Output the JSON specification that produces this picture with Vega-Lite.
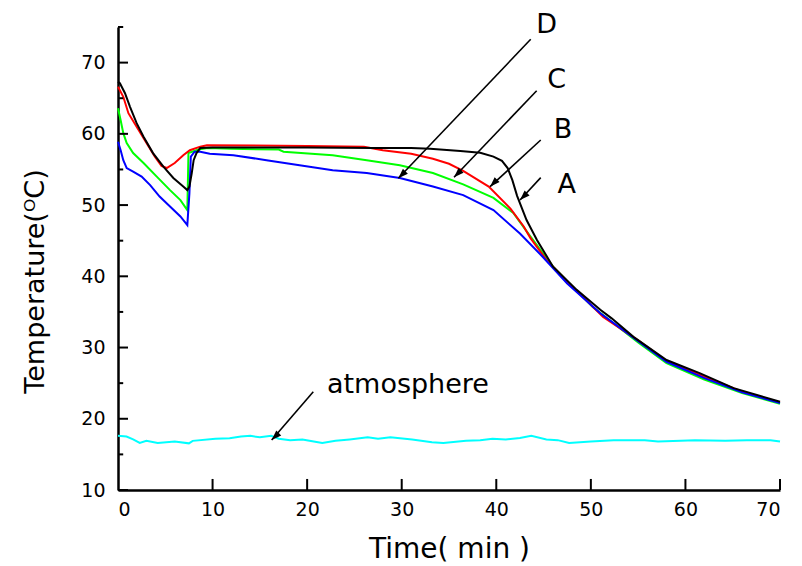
{
 "$schema": "https://vega.github.io/schema/vega-lite/v6.json",
 "width": 662,
 "height": 463,
 "autosize": "none",
 "padding": {"left": 118, "top": 27, "right": 22, "bottom": 76},
 "background": "white",
 "config": {"view": {"stroke": null}, "font": "DejaVu Sans"},
 "datasets": {
  "curves": [
   {"series":"atmosphere","t":0,"temp":17.6},{"series":"atmosphere","t":0.9,"temp":17.5},{"series":"atmosphere","t":1.6,"temp":17.1},{"series":"atmosphere","t":2.3,"temp":16.6},{"series":"atmosphere","t":3.0,"temp":16.9},{"series":"atmosphere","t":4.2,"temp":16.6},{"series":"atmosphere","t":6.0,"temp":16.8},{"series":"atmosphere","t":7.5,"temp":16.55},{"series":"atmosphere","t":7.9,"temp":16.9},{"series":"atmosphere","t":10.3,"temp":17.2},{"series":"atmosphere","t":11.8,"temp":17.25},{"series":"atmosphere","t":13.0,"temp":17.5},{"series":"atmosphere","t":14,"temp":17.6},{"series":"atmosphere","t":15.0,"temp":17.4},{"series":"atmosphere","t":16.2,"temp":17.6},{"series":"atmosphere","t":17.0,"temp":17.2},{"series":"atmosphere","t":18.2,"temp":17.0},{"series":"atmosphere","t":19.5,"temp":17.1},{"series":"atmosphere","t":20.7,"temp":16.8},{"series":"atmosphere","t":21.6,"temp":16.6},{"series":"atmosphere","t":23.0,"temp":16.9},{"series":"atmosphere","t":24.5,"temp":17.1},{"series":"atmosphere","t":26.4,"temp":17.4},{"series":"atmosphere","t":27.5,"temp":17.2},{"series":"atmosphere","t":28.8,"temp":17.4},{"series":"atmosphere","t":31.1,"temp":17.1},{"series":"atmosphere","t":33.2,"temp":16.7},{"series":"atmosphere","t":34.4,"temp":16.6},{"series":"atmosphere","t":36.8,"temp":16.9},{"series":"atmosphere","t":38.3,"temp":17.0},{"series":"atmosphere","t":39.6,"temp":17.2},{"series":"atmosphere","t":41.0,"temp":17.1},{"series":"atmosphere","t":42.5,"temp":17.3},{"series":"atmosphere","t":43.7,"temp":17.6},{"series":"atmosphere","t":45.3,"temp":17.1},{"series":"atmosphere","t":46.5,"temp":17.0},{"series":"atmosphere","t":47.7,"temp":16.6},{"series":"atmosphere","t":50,"temp":16.8},{"series":"atmosphere","t":52.4,"temp":17.0},{"series":"atmosphere","t":55.7,"temp":17.0},{"series":"atmosphere","t":57.1,"temp":16.8},{"series":"atmosphere","t":59.5,"temp":16.9},{"series":"atmosphere","t":61.0,"temp":17.0},{"series":"atmosphere","t":64.2,"temp":16.9},{"series":"atmosphere","t":66.5,"temp":17.0},{"series":"atmosphere","t":69,"temp":17.0},{"series":"atmosphere","t":70,"temp":16.8},

   {"series":"C","t":0,"temp":63.6},{"series":"C","t":0.28,"temp":61.9},{"series":"C","t":0.56,"temp":60.1},{"series":"C","t":0.92,"temp":58.7},{"series":"C","t":1.6,"temp":57.3},{"series":"C","t":2.7,"temp":55.9},{"series":"C","t":4.1,"temp":54.0},{"series":"C","t":5.5,"temp":52.1},{"series":"C","t":6.6,"temp":50.7},{"series":"C","t":7.33,"temp":49.3},{"series":"C","t":7.45,"temp":57.3},{"series":"C","t":8.5,"temp":57.8},{"series":"C","t":9.5,"temp":58.0},{"series":"C","t":12,"temp":57.9},{"series":"C","t":17,"temp":57.8},{"series":"C","t":17.5,"temp":57.5},{"series":"C","t":22.7,"temp":57.0},{"series":"C","t":26.3,"temp":56.3},{"series":"C","t":29.8,"temp":55.6},{"series":"C","t":33.3,"temp":54.5},{"series":"C","t":36.5,"temp":52.9},{"series":"C","t":39.7,"temp":51.0},{"series":"C","t":41.8,"temp":48.9},{"series":"C","t":43.6,"temp":45.6},{"series":"C","t":46,"temp":41.35},{"series":"C","t":50.2,"temp":35.7},{"series":"C","t":55,"temp":30.7},{"series":"C","t":58,"temp":27.8},{"series":"C","t":62,"temp":25.5},{"series":"C","t":66,"temp":23.6},{"series":"C","t":70,"temp":22.1},

   {"series":"B","t":0,"temp":66.6},{"series":"B","t":0.56,"temp":65.2},{"series":"B","t":1.1,"temp":62.9},{"series":"B","t":1.97,"temp":61.0},{"series":"B","t":3.03,"temp":58.7},{"series":"B","t":3.9,"temp":56.8},{"series":"B","t":4.6,"temp":55.5},{"series":"B","t":5.15,"temp":55.2},{"series":"B","t":6.0,"temp":55.9},{"series":"B","t":6.9,"temp":57.0},{"series":"B","t":7.6,"temp":57.7},{"series":"B","t":8.7,"temp":58.2},{"series":"B","t":9.4,"temp":58.4},{"series":"B","t":20,"temp":58.3},{"series":"B","t":26,"temp":58.2},{"series":"B","t":28,"temp":57.7},{"series":"B","t":31,"temp":57.2},{"series":"B","t":33.3,"temp":56.5},{"series":"B","t":35,"temp":55.8},{"series":"B","t":36.5,"temp":54.8},{"series":"B","t":39.2,"temp":52.6},{"series":"B","t":41.5,"temp":49.5},{"series":"B","t":42.9,"temp":47.0},{"series":"B","t":43.6,"temp":45.4},{"series":"B","t":45.3,"temp":42.3},{"series":"B","t":48.1,"temp":38.5},{"series":"B","t":51.3,"temp":34.3},{"series":"B","t":55,"temp":31.0},{"series":"B","t":58,"temp":28.1},{"series":"B","t":62,"temp":25.9},{"series":"B","t":66,"temp":23.8},{"series":"B","t":70,"temp":22.3},

   {"series":"D","t":0,"temp":58.9},{"series":"D","t":0.28,"temp":57.7},{"series":"D","t":0.56,"temp":56.3},{"series":"D","t":0.92,"temp":55.2},{"series":"D","t":1.6,"temp":54.7},{"series":"D","t":2.5,"temp":54.0},{"series":"D","t":3.4,"temp":52.8},{"series":"D","t":4.4,"temp":51.2},{"series":"D","t":5.5,"temp":49.8},{"series":"D","t":6.6,"temp":48.4},{"series":"D","t":7.33,"temp":47.2},{"series":"D","t":7.55,"temp":51.65},{"series":"D","t":7.7,"temp":56.8},{"series":"D","t":8.1,"temp":57.5},{"series":"D","t":8.7,"temp":57.5},{"series":"D","t":9.7,"temp":57.2},{"series":"D","t":12.2,"temp":57.0},{"series":"D","t":15.7,"temp":56.3},{"series":"D","t":19.2,"temp":55.6},{"series":"D","t":22.7,"temp":54.9},{"series":"D","t":26.3,"temp":54.5},{"series":"D","t":29.8,"temp":53.8},{"series":"D","t":33.3,"temp":52.6},{"series":"D","t":36.5,"temp":51.4},{"series":"D","t":39.7,"temp":49.3},{"series":"D","t":42.5,"temp":46.0},{"series":"D","t":44.9,"temp":42.75},{"series":"D","t":47.5,"temp":39.0},{"series":"D","t":51,"temp":34.8},{"series":"D","t":55,"temp":30.9},{"series":"D","t":58,"temp":28.0},{"series":"D","t":62,"temp":25.7},{"series":"D","t":66,"temp":23.7},{"series":"D","t":70,"temp":22.2},

   {"series":"A","t":0,"temp":67.3},{"series":"A","t":0.2,"temp":67.1},{"series":"A","t":0.74,"temp":65.7},{"series":"A","t":1.27,"temp":63.8},{"series":"A","t":1.97,"temp":61.5},{"series":"A","t":2.7,"temp":59.6},{"series":"A","t":3.7,"temp":57.3},{"series":"A","t":4.8,"temp":55.4},{"series":"A","t":5.85,"temp":53.8},{"series":"A","t":6.9,"temp":52.6},{"series":"A","t":7.33,"temp":52.1},{"series":"A","t":7.55,"temp":52.6},{"series":"A","t":7.8,"temp":54.5},{"series":"A","t":8.0,"temp":56.3},{"series":"A","t":8.3,"temp":57.3},{"series":"A","t":8.7,"temp":58.0},{"series":"A","t":10,"temp":58.1},{"series":"A","t":20,"temp":58.1},{"series":"A","t":27,"temp":58.0},{"series":"A","t":31,"temp":58.0},{"series":"A","t":33,"temp":57.9},{"series":"A","t":36.2,"temp":57.6},{"series":"A","t":38.3,"temp":57.35},{"series":"A","t":39.7,"temp":56.8},{"series":"A","t":40.6,"temp":56.2},{"series":"A","t":41.2,"temp":55.2},{"series":"A","t":41.7,"temp":53.5},{"series":"A","t":42.2,"temp":51.3},{"series":"A","t":43.2,"temp":47.9},{"series":"A","t":44.3,"temp":45.1},{"series":"A","t":46.0,"temp":41.35},{"series":"A","t":48.5,"temp":38.1},{"series":"A","t":51.0,"temp":35.3},{"series":"A","t":52.2,"temp":34.1},{"series":"A","t":54.5,"temp":31.5},{"series":"A","t":58.0,"temp":28.25},{"series":"A","t":61.5,"temp":26.4},{"series":"A","t":65.1,"temp":24.3},{"series":"A","t":70,"temp":22.4}
  ],
  "arrows": [
   {"name":"D","x1":43.64,"y1":73.27,"x2":29.64,"y2":53.76},
   {"name":"C","x1":44.27,"y1":66.06,"x2":35.53,"y2":53.9},
   {"name":"B","x1":44.7,"y1":59.14,"x2":39.34,"y2":52.58},
   {"name":"A","x1":44.7,"y1":53.85,"x2":42.51,"y2":50.71},
   {"name":"atmosphere","x1":20.65,"y1":23.8,"x2":16.25,"y2":17.02}
  ],
  "labels": [
   {"label":"D","x":45.33,"y":74.12},
   {"label":"C","x":46.39,"y":66.39},
   {"label":"B","x":47.05,"y":59.37},
   {"label":"A","x":47.45,"y":51.74},
   {"label":"atmosphere","x":30.66,"y":23.58}
  ],
  "yMajor": [{"v":10},{"v":20},{"v":30},{"v":40},{"v":50},{"v":60},{"v":70}],
  "yMinor": [{"v":15},{"v":25},{"v":35},{"v":45},{"v":55},{"v":65},{"v":75}],
  "xMajor": [{"v":10},{"v":20},{"v":30},{"v":40},{"v":50},{"v":60},{"v":70}]
 },
 "layer": [
  {
   "data": {"name": "curves"},
   "mark": {"type": "line", "strokeWidth": 2},
   "encoding": {
    "x": {"field": "t", "type": "quantitative",
     "scale": {"domain": [0, 70], "nice": false, "zero": false},
     "axis": {"values": [0,10,20,30,40,50,60,70], "title": "Time( min )", "grid": false, "ticks": false, "tickSize": 0,
      "domainColor": "black", "domainWidth": 2.5,
      "labelFont": "DejaVu Sans", "labelFontSize": 19, "labelColor": "black", "labelPadding": 25, "labelBaseline": "alphabetic",
      "titleFont": "DejaVu Sans", "titleFontSize": 28, "titleFontWeight": "normal", "titleColor": "black",
      "titleX": 331, "titleY": 67, "titleBaseline": "alphabetic", "titleAlign": "center", "titleAnchor": null}},
    "y": {"field": "temp", "type": "quantitative",
     "scale": {"domain": [10, 75], "nice": false, "zero": false},
     "axis": {"values": [10,20,30,40,50,60,70], "title": "Temperature(ᴼC)", "grid": false, "ticks": false, "tickSize": 0,
      "domainColor": "black", "domainWidth": 2.5,
      "labelFont": "DejaVu Sans", "labelFontSize": 19, "labelColor": "black", "labelPadding": 13,
      "titleFont": "DejaVu Sans", "titleFontSize": 27, "titleFontWeight": "normal", "titleColor": "black",
      "titleX": -75, "titleY": 254, "titleAngle": 270, "titleBaseline": "alphabetic", "titleAlign": "center", "titleAnchor": null}},
    "color": {"field": "series", "type": "nominal",
     "scale": {"domain": ["atmosphere","C","B","D","A"], "range": ["#00ffff","#00ff00","#ff0000","#0000ff","#000000"]},
     "legend": null}
   }
  },
  {
   "data": {"name": "yMajor"},
   "mark": {"type": "rule", "color": "black", "strokeWidth": 2},
   "encoding": {
    "x": {"datum": 0, "type": "quantitative"},
    "x2": {"datum": 1.06},
    "y": {"field": "v", "type": "quantitative"}
   }
  },
  {
   "data": {"name": "yMinor"},
   "mark": {"type": "rule", "color": "black", "strokeWidth": 2},
   "encoding": {
    "x": {"datum": 0, "type": "quantitative"},
    "x2": {"datum": 0.55},
    "y": {"field": "v", "type": "quantitative"}
   }
  },
  {
   "data": {"name": "xMajor"},
   "mark": {"type": "rule", "color": "black", "strokeWidth": 2},
   "encoding": {
    "x": {"field": "v", "type": "quantitative"},
    "y": {"datum": 10, "type": "quantitative"},
    "y2": {"datum": 11.55}
   }
  },
  {
   "data": {"name": "arrows"},
   "mark": {"type": "rule", "color": "black", "strokeWidth": 1.6},
   "encoding": {
    "x": {"field": "x1", "type": "quantitative"},
    "y": {"field": "y1", "type": "quantitative"},
    "x2": {"field": "x2"},
    "y2": {"field": "y2"}
   }
  },
  {
   "data": {"name": "arrows"},
   "mark": {"type": "point", "shape": "M0,0L-0.35,-1L0.35,-1Z", "filled": true, "color": "black", "opacity": 1, "size": 400, "angle": 45},
   "encoding": {
    "x": {"field": "x2", "type": "quantitative"},
    "y": {"field": "y2", "type": "quantitative"}
   }
  },
  {
   "data": {"name": "labels"},
   "mark": {"type": "text", "font": "DejaVu Sans", "fontSize": 27, "color": "black", "align": "center", "baseline": "alphabetic"},
   "encoding": {
    "x": {"field": "x", "type": "quantitative"},
    "y": {"field": "y", "type": "quantitative"},
    "text": {"field": "label"}
   }
  }
 ]
}
